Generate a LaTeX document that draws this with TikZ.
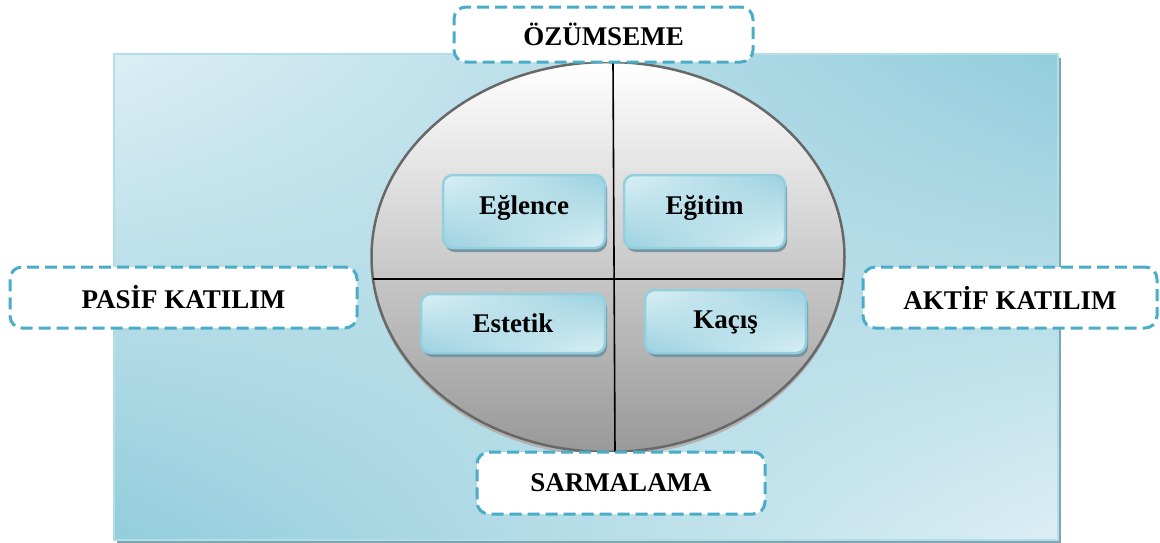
\documentclass[tikz,border=0pt]{standalone}
\usepackage{fontspec}
\setmainfont{Liberation Serif}
\usetikzlibrary{shapes.geometric,shadings,shadows}
\definecolor{dashc}{HTML}{4AACC6}
\definecolor{bgA}{HTML}{DCEEF4}
\definecolor{bgB}{HTML}{92CDDC}
\definecolor{bgborder}{HTML}{B2DEE9}
\definecolor{bgshadow}{HTML}{7FA7B2}
\definecolor{ellborder}{HTML}{686868}
\definecolor{boxborder}{HTML}{92CFDF}
\definecolor{boxA}{HTML}{DAEFF5}
\definecolor{boxB}{HTML}{9BD1E0}
\definecolor{boxshadow}{HTML}{7894A0}
\tikzset{
  dbox/.style={draw=dashc, line width=3pt, dash pattern=on 12pt off 6pt,
    rounded corners=12pt, fill=white, inner sep=0pt},
  inbox/.style={rounded corners=10pt, draw=boxborder, line width=2.5pt,
    upper left=boxA, upper right=boxB, lower left=boxB, lower right=boxA,
    drop shadow={fill=boxshadow, opacity=1, shadow xshift=2pt, shadow yshift=-4pt},
    inner sep=0pt},
  divider/.style={draw=black, line width=1.6pt},
}
\begin{document}
\begin{tikzpicture}[x=1pt,y=-1pt, font=\fontsize{27}{31}\selectfont\bfseries]
\useasboundingbox (0,0) rectangle (1160,542);
% background panel
\fill[bgshadow] (117,58) rectangle (1061,543);
\shade[upper left=bgA, upper right=bgB, lower left=bgB, lower right=bgA]
  (114,54) rectangle (1058,540);
\draw[bgborder, line width=2pt] (114,54) rectangle (1058,540);
% ellipse
\fill[black!30] (608,261) ellipse [x radius=236.5, y radius=195];
\node[ellipse, draw=ellborder, line width=2.5pt, minimum width=473pt, minimum height=390pt,
  inner sep=0pt, top color=white, middle color=black!19, bottom color=black!40] (ell) at (608,257) {};
% dividers
\coordinate (hl) at (373,279);
\coordinate (hr) at (843,279);
\coordinate (vt) at (613,62);
\coordinate (vb) at (615,452);
\draw[divider] (hl) -- (hr);
\draw[divider] (vt) -- (vb);
% inner boxes
\node[inbox, minimum width=162pt, minimum height=73pt, text height=18pt, text depth=13pt] (egl) at (524,211.5) {Eğlence};
\node[inbox, minimum width=161pt, minimum height=73pt, text height=18pt, text depth=13pt] (egi) at (704.5,211.5) {Eğitim};
\node[inbox, minimum width=184pt, minimum height=59pt, text height=22pt, text depth=5pt] (est) at (513,323.5) {Estetik};
\node[inbox, minimum width=161pt, minimum height=63pt, text height=20pt, text depth=7pt] (kac) at (725.5,321.5) {Kaçış};
% dashed labels
\node[dbox, minimum width=299pt, minimum height=55pt] (ozu) at (603.5,34.5) {ÖZÜMSEME};
\node[dbox, minimum width=347pt, minimum height=61pt] (pas) at (183.5,297.5) {PASİF KATILIM};
\node[dbox, minimum width=294pt, minimum height=61pt] (akt) at (1010,297.5) {AKTİF KATILIM};
\node[dbox, minimum width=288pt, minimum height=62pt] (sar) at (621,483) {SARMALAMA};
\end{tikzpicture}
\end{document}
